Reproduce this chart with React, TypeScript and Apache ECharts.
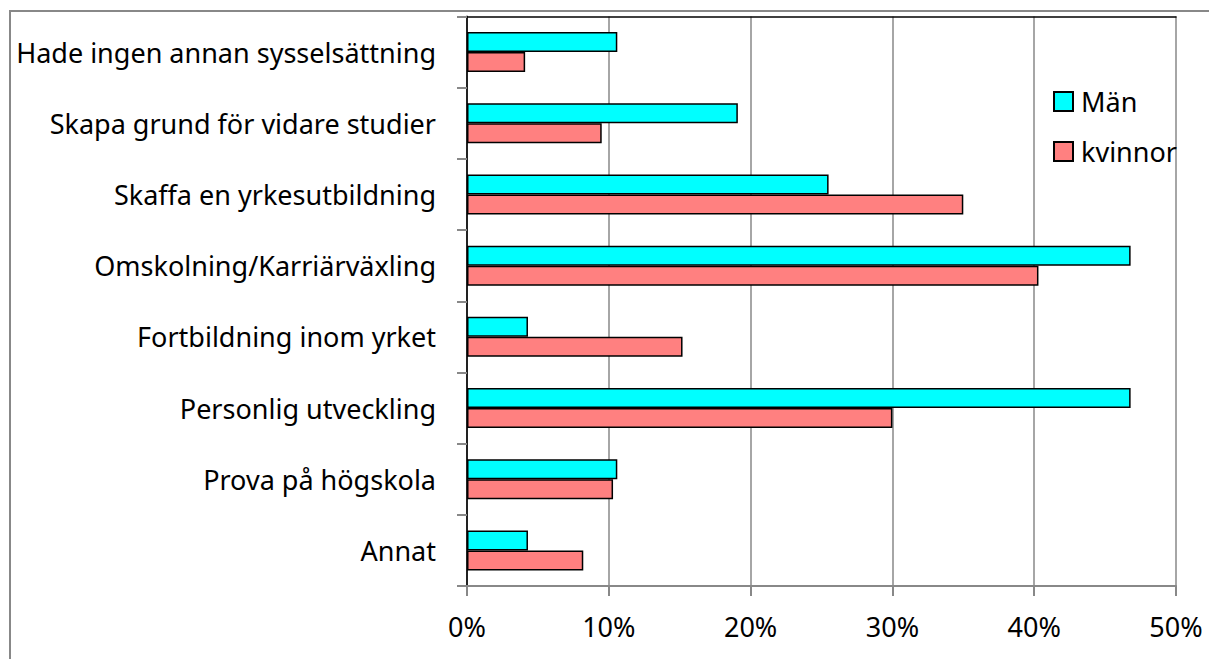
import React, { useEffect, useRef } from "react";
import * as echarts from "echarts";

const categories = [
  "Hade ingen annan sysselsättning",
  "Skapa grund för vidare studier",
  "Skaffa en yrkesutbildning",
  "Omskolning/Karriärväxling",
  "Fortbildning inom yrket",
  "Personlig utveckling",
  "Prova på högskola",
  "Annat",
];
const manValues = [10.6, 19.1, 25.5, 46.8, 4.3, 46.8, 10.6, 4.3];
const kvinnorValues = [4.1, 9.5, 35.0, 40.3, 15.2, 30.0, 10.3, 8.2];
const seriesNames = ["Män", "kvinnor"];

const FONT = "'Noto Sans', sans-serif";

export default function App() {
  const ref = useRef<HTMLDivElement>(null);
  useEffect(() => {
    if (!ref.current) return;
    const chart = echarts.init(ref.current, undefined, { renderer: "svg" });
    chart.setOption({
      animation: false,
      backgroundColor: "#fff",
      textStyle: { fontFamily: FONT },
      graphic: [
        {
          type: "rect",
          shape: { x: 10, y: 11, width: 1230, height: 680 },
          style: { fill: "none", stroke: "#888", lineWidth: 2 },
          silent: true,
        },
      ],
      grid: { left: 467, right: 33, top: 16.5, bottom: 73, containLabel: false },
      legend: {
        orient: "vertical",
        left: 1048,
        top: 83,
        itemWidth: 19,
        itemHeight: 19,
        itemGap: 23,
        icon: "rect",
        data: seriesNames,
        textStyle: { fontFamily: FONT, fontSize: 27, color: "#000", lineHeight: 27, padding: [0, 0, 0, 3] },
      },
      xAxis: [
        {
          type: "value",
          min: 0,
          max: 50,
          interval: 10,
          axisLine: { show: true, lineStyle: { color: "#888", width: 2 } },
          axisTick: { show: true, length: 10, lineStyle: { color: "#888", width: 2 } },
          splitLine: { show: true, lineStyle: { color: "#888", width: 1.5 } },
          axisLabel: {
            formatter: "{value}%",
            fontFamily: FONT,
            fontSize: 27,
            color: "#000",
            margin: 27,
          },
        },
        {
          type: "value",
          position: "top",
          min: 0,
          max: 50,
          axisLine: { show: true, lineStyle: { color: "#000", width: 1.5 } },
          axisTick: { show: false },
          axisLabel: { show: false },
          splitLine: { show: false },
        },
      ],
      yAxis: [
        {
          type: "category",
          data: categories,
          inverse: true,
          axisLine: { show: true, lineStyle: { color: "#888", width: 2 } },
          axisTick: { show: true, length: 10, lineStyle: { color: "#888", width: 2 } },
          splitLine: { show: false },
          axisLabel: { fontFamily: FONT, fontSize: 27, color: "#000", margin: 31 },
        },
        {
          type: "category",
          data: categories,
          inverse: true,
          position: "right",
          axisLine: { show: true, lineStyle: { color: "#000", width: 1.5 } },
          axisTick: { show: false },
          axisLabel: { show: false },
          splitLine: { show: false },
        },
      ],
      series: [
        {
          name: seriesNames[0],
          type: "bar",
          data: manValues,
          barWidth: 20,
          barGap: "0%",
          itemStyle: { color: "#00FFFF", borderColor: "#000", borderWidth: 1.5 },
        },
        {
          name: seriesNames[1],
          type: "bar",
          data: kvinnorValues,
          barWidth: 20,
          barGap: "0%",
          itemStyle: { color: "#FF8080", borderColor: "#000", borderWidth: 1.5 },
        },
      ],
    });
    return () => chart.dispose();
  }, []);
  return (
    <div
      ref={ref}
      style={{ position: "fixed", left: 0, top: 0, width: 1209, height: 659 }}
    />
  );
}
